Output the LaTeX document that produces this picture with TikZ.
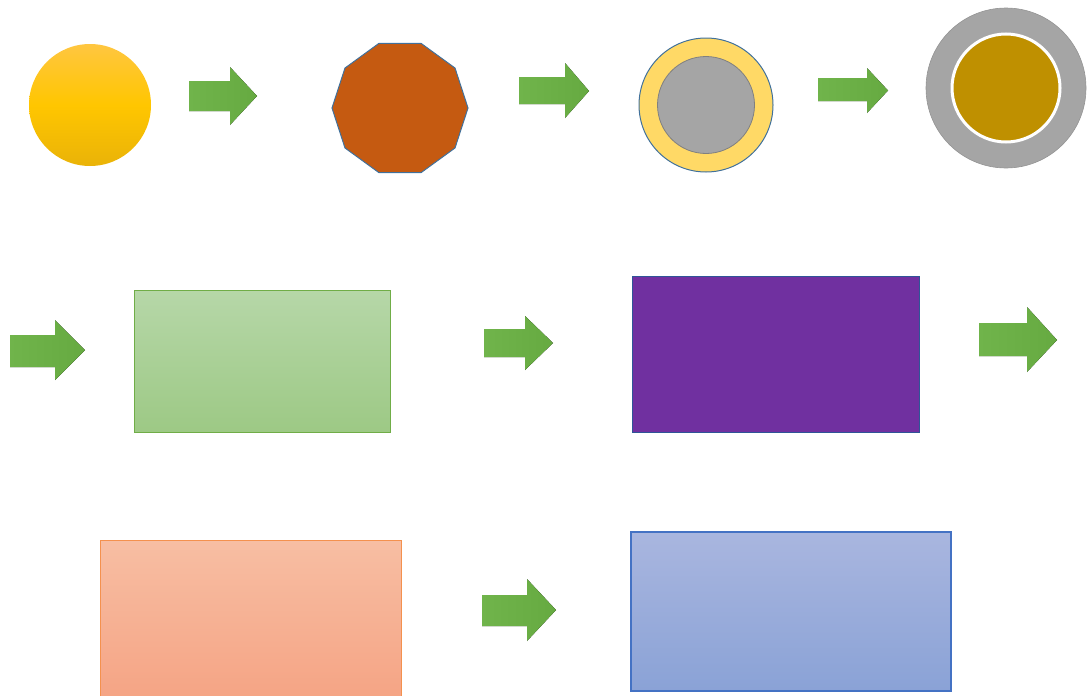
\documentclass[tikz,border=0pt]{standalone}
\usetikzlibrary{shapes.geometric}
\definecolor{arrowlight}{HTML}{70B44B}
\definecolor{arrowdark}{HTML}{66AA41}
\definecolor{suntop}{HTML}{FFC640}
\definecolor{sunmid}{HTML}{FFC600}
\definecolor{sunbot}{HTML}{EAB308}
\definecolor{rust}{HTML}{C55A11}
\definecolor{slate}{HTML}{41719C}
\definecolor{pale}{HTML}{FFD966}
\definecolor{stone}{HTML}{A5A5A5}
\definecolor{gold}{HTML}{BF9000}
\definecolor{leaftop}{HTML}{B6D7A8}
\definecolor{leafbot}{HTML}{9DC985}
\definecolor{leafedge}{HTML}{70AD47}
\definecolor{plum}{HTML}{7030A0}
\definecolor{navy}{HTML}{2F5597}
\definecolor{peachtop}{HTML}{F7BEA3}
\definecolor{peachbot}{HTML}{F4A27F}
\definecolor{peachedge}{HTML}{F4914E}
\definecolor{skytop}{HTML}{A9B6DF}
\definecolor{skybot}{HTML}{8AA2D6}
\definecolor{skyedge}{HTML}{4472C4}
\begin{document}
\begin{tikzpicture}[x=1pt,y=-1pt,
    flowarrow/.style={left color=arrowlight,right color=arrowdark},
    disc/.style={circle,inner sep=0pt},
    box/.style={rectangle,inner sep=0pt,line width=1pt}]
  \useasboundingbox (0,0) rectangle (1087,696);
  \clip (0,0) rectangle (1087,696);
  % first row
  \node[disc,minimum size=122pt,top color=suntop,bottom color=sunbot,middle color=sunmid] (sun) at (90,105) {};
  \node[regular polygon,regular polygon sides=10,minimum size=136pt,inner sep=0pt,
    fill=rust,draw=slate,line width=1pt] (deca) at (400,108) {};
  \node[disc,minimum size=134pt,fill=pale,draw=slate,line width=1pt] (ringa) at (706,105) {};
  \node[disc,minimum size=97pt,fill=stone,draw=gray,line width=0.8pt] (corea) at (ringa.center) {};
  \node[disc,minimum size=160pt,fill=stone,draw=stone!90!black,line width=0.6pt] (ringb) at (1006,88) {};
  \node[disc,minimum size=108pt,fill=gold,draw=white,line width=3pt] (coreb) at (ringb.center) {};
  % second row
  \node[box,minimum width=256pt,minimum height=142pt,top color=leaftop,bottom color=leafbot,draw=leafedge] (leaf) at (262,361) {};
  \node[box,minimum width=287pt,minimum height=156pt,fill=plum,draw=navy] (grape) at (775.5,354) {};
  % third row
  \node[box,minimum width=301pt,minimum height=220pt,top color=peachtop,bottom color=peachbot!95!red,draw=peachedge] (peach) at (250.5,650) {};
  \node[box,minimum width=320pt,minimum height=159pt,top color=skytop,bottom color=skybot,draw=skyedge,line width=1.5pt] (sky) at (791,611.5) {};
  % block arrows
  \fill[flowarrow] (189,81) -- (230,81) -- (230,67) -- (257,96) -- (230,125) -- (230,111) -- (189,111) -- cycle;
  \fill[flowarrow] (519,77) -- (565,77) -- (565,63) -- (589,91) -- (565,118) -- (565,104) -- (519,104) -- cycle;
  \fill[flowarrow] (818,78) -- (867,78) -- (867,68) -- (888,90.5) -- (867,113) -- (867,101) -- (818,101) -- cycle;
  \fill[flowarrow] (10,335) -- (55,335) -- (55,320) -- (85,350) -- (55,380) -- (55,367) -- (10,367) -- cycle;
  \fill[flowarrow] (484,329) -- (525,329) -- (525,316) -- (553,343) -- (525,370) -- (525,357) -- (484,357) -- cycle;
  \fill[flowarrow] (979,323) -- (1027,323) -- (1027,307) -- (1057,340) -- (1027,372) -- (1027,356) -- (979,356) -- cycle;
  \fill[flowarrow] (482,595) -- (527,595) -- (527,579) -- (556,610) -- (527,641) -- (527,626) -- (482,626) -- cycle;
\end{tikzpicture}
\end{document}
